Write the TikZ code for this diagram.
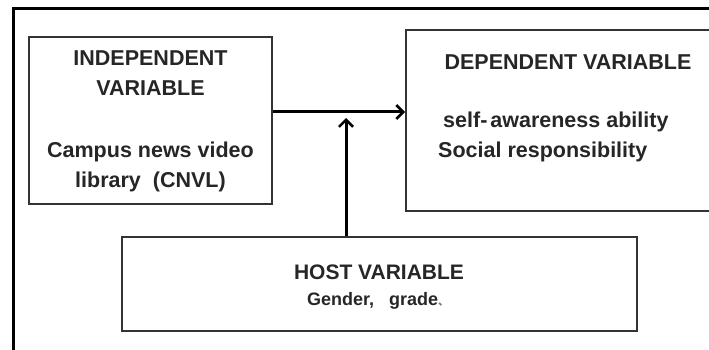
\documentclass[tikz,border=0pt]{standalone}
\usepackage{fontspec}
\setmainfont{Liberation Sans}
\newfontfamily\cjk{Noto Sans CJK SC}
\usetikzlibrary{arrows.meta}
\begin{document}
\begin{tikzpicture}[x=1pt,y=-1pt,
  box/.style={draw=black!80, line width=1.8pt, inner sep=0pt},
  lbl/.style={font=\bfseries\fontsize{21.5}{30}\selectfont, text=black!85, inner sep=0pt},
  small/.style={font=\bfseries\fontsize{18}{22}\selectfont, text=black!85, inner sep=0pt},
  arr/.style={line width=3pt, -{Straight Barb[length=7pt,width=14pt,line width=2.6pt]}}]
\useasboundingbox (0,0) rectangle (709,350);
\fill[white] (0,0) rectangle (709,350);
% outer frame
\draw[line width=3pt] (13,352) -- (13,9) -- (712,9);
% boxes
\node[box, minimum width=243pt, minimum height=167pt] (ind) at (150.5,120.5) {};
\node[box, minimum width=306pt, minimum height=181pt] (dep) at (559,120.5) {};
\node[box, minimum width=515pt, minimum height=94pt] (host) at (379.5,284) {};
% texts
\node[lbl, align=center] (indtxt) at (150.5,121) {INDEPENDENT\\VARIABLE\\[32pt]Campus news video\\library\hspace{6pt} (CNVL)};
\node[lbl] (deptitle) at (568,62) {DEPENDENT VARIABLE};
\node[lbl, align=left, anchor=west] (depitems) at (438,137) {\hspace{5pt}self-\hspace{3pt}awareness ability\\Social responsibility};
\node[lbl, font=\bfseries\fontsize{21}{25}\selectfont] (hosttitle) at (379,272) {HOST VARIABLE};
\node[small, anchor=west] (hostitems) at (307,301) {Gender,\hspace{15pt}grade{\cjk\fontsize{11}{11}\selectfont\color{black!50}、}};
% connectors
\coordinate (h) at (0,112);
\coordinate (v) at (346,118);
\draw[arr] (ind.east |- h) -- (dep.west |- h);
\draw[arr] (host.north -| v) -- (v);
\end{tikzpicture}
\end{document}
